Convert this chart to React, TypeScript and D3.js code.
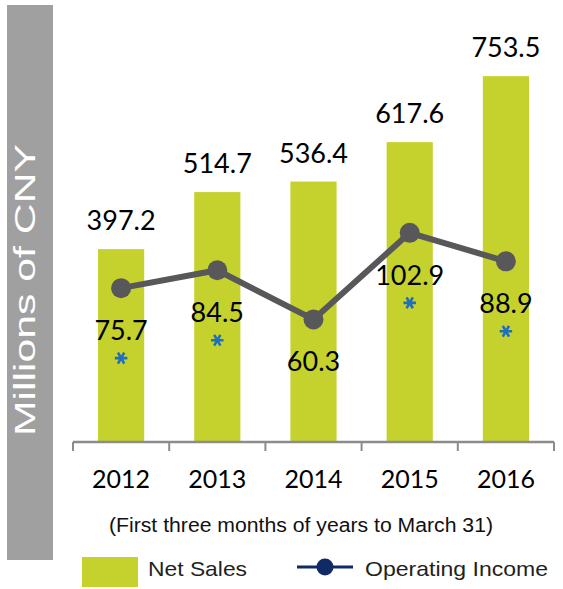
import React from "react";
import * as d3 from "d3";

const years = ["2012", "2013", "2014", "2015", "2016"];
const netSales = [397.2, 514.7, 536.4, 617.6, 753.5];
const operatingIncome = [75.7, 84.5, 60.3, 102.9, 88.9];
const hasNote = [true, true, false, true, true];
const yTitle = "Millions of CNY";
const subtitle = "(First three months of years to March 31)";
const legendLabels = ["Net Sales", "Operating Income"];

const W = 563;
const H = 589;
const GREEN = "#c5d22e";
const LINE = "#58585a";
const NAVY = "#0f2a66";
const BLUE = "#1f6fbf";

export default function App() {
  const x = d3.scaleBand<string>().domain(years).range([73, 554]).paddingInner(0.52).paddingOuter(0.26);
  const y = d3.scaleLinear().domain([0, 900]).range([442, 5]);
  const y2 = d3.scaleLinear().domain([0, 215]).range([442, 5]);
  const cx = (d: string) => (x(d) as number) + x.bandwidth() / 2;

  const line = d3
    .line<number>()
    .x((_, i) => cx(years[i]))
    .y((v) => y2(v));

  const star = d3.symbol().type(d3.symbolAsterisk).size(110)() || "";

  const [r0, r1] = x.range();
  const boundaries = d3.range(years.length + 1).map((i) => r0 + i * x.step());

  return (
    <svg
      width={W}
      height={H}
      style={{ position: "absolute", left: 0, top: 0, background: "#fff" }}
    >
      {/* y title panel */}
      <rect x={7} y={5} width={46} height={555} fill="#a0a0a0" />
      <text
        transform={`translate(35,290) rotate(-90)`}
        textAnchor="middle"
        fontFamily="Liberation Sans, Arial, sans-serif"
        fontSize={30}
        fill="#fff"
        textLength={292}
        lengthAdjust="spacingAndGlyphs"
      >
        {yTitle}
      </text>

      {/* bars */}
      {years.map((d, i) => (
        <rect
          key={d}
          x={x(d)}
          y={y(netSales[i])}
          width={x.bandwidth()}
          height={y(0) - y(netSales[i])}
          fill={GREEN}
        />
      ))}

      {/* bar labels */}
      {years.map((d, i) => (
        <text
          key={"bl" + d}
          x={cx(d)}
          y={y(netSales[i]) - 19}
          textAnchor="middle"
          fontFamily="Lato, sans-serif"
          fontSize={27}
          fill="#000"
        >
          {netSales[i].toFixed(1)}
        </text>
      ))}

      {/* axis */}
      <line x1={r0} x2={r1} y1={y(0)} y2={y(0)} stroke="#8c8c8c" strokeWidth={2.5} />
      {boundaries.map((b, i) => (
        <line key={"t" + i} x1={b} x2={b} y1={y(0)} y2={y(0) + 9} stroke="#8c8c8c" strokeWidth={2} />
      ))}
      {years.map((d) => (
        <text
          key={"yl" + d}
          x={cx(d)}
          y={488}
          textAnchor="middle"
          fontFamily="Lato, sans-serif"
          fontSize={25}
          fill="#000"
        >
          {d}
        </text>
      ))}

      {/* operating income line */}
      <path d={line(operatingIncome) || ""} fill="none" stroke={LINE} strokeWidth={6} />
      {years.map((d, i) => (
        <circle key={"c" + d} cx={cx(d)} cy={y2(operatingIncome[i])} r={10} fill={LINE} />
      ))}
      {years.map((d, i) => (
        <text
          key={"ol" + d}
          x={cx(d)}
          y={y2(operatingIncome[i]) + 52}
          textAnchor="middle"
          fontFamily="Lato, sans-serif"
          fontSize={27}
          fill="#000"
        >
          {operatingIncome[i].toFixed(1)}
        </text>
      ))}
      {years.map((d, i) =>
        hasNote[i] ? (
          <path
            key={"n" + d}
            d={star}
            transform={`translate(${cx(d)},${y2(operatingIncome[i]) + 52 + 18}) rotate(90)`}
            fill="none"
            stroke={BLUE}
            strokeWidth={2.6}
          />
        ) : null
      )}

      {/* subtitle */}
      <text
        x={301}
        y={532}
        textAnchor="middle"
        fontFamily="Liberation Sans, Arial, sans-serif"
        fontSize={20}
        fill="#111"
        textLength={384}
        lengthAdjust="spacingAndGlyphs"
      >
        {subtitle}
      </text>

      {/* legend */}
      <rect x={82} y={557} width={56} height={30} fill={GREEN} />
      <text
        x={148}
        y={576}
        fontFamily="Liberation Sans, Arial, sans-serif"
        fontSize={21}
        fill="#231f20"
        textLength={99}
        lengthAdjust="spacingAndGlyphs"
      >
        {legendLabels[0]}
      </text>
      <line x1={297} x2={353} y1={567} y2={567} stroke={NAVY} strokeWidth={3} />
      <circle cx={325} cy={567} r={8.5} fill={NAVY} />
      <text
        x={365}
        y={576}
        fontFamily="Liberation Sans, Arial, sans-serif"
        fontSize={21}
        fill="#231f20"
        textLength={183}
        lengthAdjust="spacingAndGlyphs"
      >
        {legendLabels[1]}
      </text>
    </svg>
  );
}
